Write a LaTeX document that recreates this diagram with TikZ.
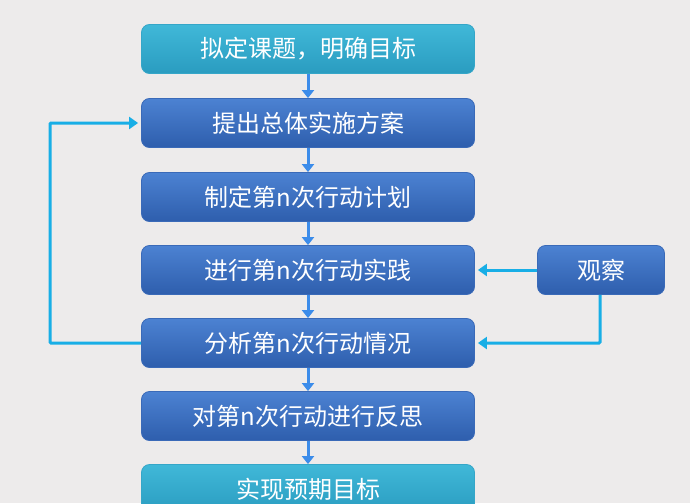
\documentclass[tikz,border=0pt]{standalone}
\usepackage{fontspec}
\newfontfamily\cjk{Noto Sans CJK SC}
\usetikzlibrary{arrows.meta}
\definecolor{bg}{HTML}{EDEBEB}
\definecolor{tealT}{HTML}{40B8D8}
\definecolor{tealB}{HTML}{2A9CC0}
\definecolor{blueT}{HTML}{4C82D2}
\definecolor{blueB}{HTML}{2E5EAD}
\definecolor{bedge}{HTML}{3A6AB8}
\definecolor{tedge}{HTML}{35A6C8}
\definecolor{link}{HTML}{18AEE6}
\definecolor{varrow}{HTML}{3C8CEA}
\tikzset{
  x=1pt,y=-1pt,
  box/.style={rounded corners=8pt, minimum width=333pt, minimum height=49pt,
    text=white, font=\cjk\fontsize{24}{27}\selectfont, inner sep=0pt},
  bluebox/.style={box, draw=bedge, line width=0.8pt, top color=blueT, bottom color=blueB},
  tealbox/.style={box, draw=tedge, line width=0.8pt, top color=tealT, bottom color=tealB},
  flow/.style={draw=varrow, line width=3pt, -{Triangle[length=8pt,width=12pt]}},
  link/.style={draw=link, line width=3pt, -{Triangle[length=9pt,width=12pt]}},
}
\begin{document}
\begin{tikzpicture}
\fill[bg] (0,0) rectangle (690,503);
\useasboundingbox (0,0) rectangle (690,503);
\node[tealbox] (a) at (308,49) {拟定课题，明确目标};
\node[bluebox] (b) at (308,123) {提出总体实施方案};
\node[bluebox] (c) at (308,197) {制定第n次行动计划};
\node[bluebox] (d) at (308,270) {进行第n次行动实践};
\node[bluebox] (e) at (308,343) {分析第n次行动情况};
\node[bluebox] (f) at (308,416) {对第n次行动进行反思};
\node[tealbox] (g) at (308,489) {实现预期目标};
\node[bluebox, minimum width=127pt] (o) at (601,270) {观察};
\foreach \u/\v in {a/b,b/c,c/d,d/e,e/f,f/g}
  \draw[flow] (\u.south) -- (\v.north);
\coordinate (L1) at (50,343);
\coordinate (L2) at (50,123);
\draw[link, rounded corners=1pt] (e.west) -- (L1) -- (L2) -- ([xshift=-3pt]b.west);
\draw[link] (o.west) -- ([xshift=3pt]d.east);
\coordinate (R1) at (600,343);
\draw[link, rounded corners=1pt] (o.south -| R1) -- (R1) -- ([xshift=3pt]e.east);
\end{tikzpicture}
\end{document}
